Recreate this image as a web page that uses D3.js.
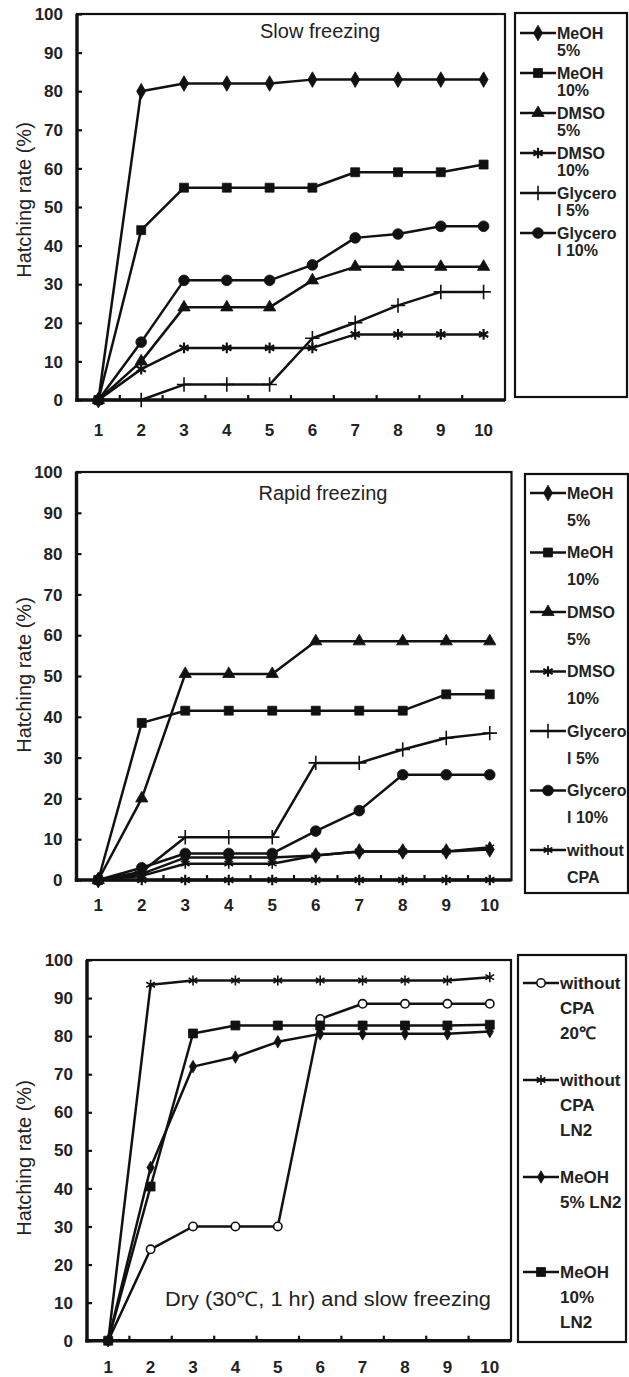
<!DOCTYPE html>
<html>
<head>
<title>Hatching rate</title>
<script src="https://d3js.org/d3.v7.min.js"></script>
<style type="text/css">
	body{ margin:0; background:white; }
	.tick-label{ font-family:"Liberation Sans",Arial,sans-serif; font-weight:bold; font-size:17px; fill:#222; }
	.axis-title{ font-family:"Liberation Sans",Arial,sans-serif; font-size:20px; fill:#222; }
	.panel-title{ font-family:"Liberation Sans",Arial,sans-serif; font-size:20px; fill:#222; }
	.legend-label{ font-family:"Liberation Sans",Arial,sans-serif; font-weight:bold; fill:#222; }
	.series{ fill:none; stroke:#111; stroke-width:2.5px; stroke-linejoin:round; }
	.frame{ fill:none; stroke:#111; stroke-width:2.2px; }
	.legend-box{ fill:white; stroke:#111; stroke-width:2.2px; }
</style>
</head>
<body>
<svg id="chart" width="629" height="1377"></svg>
<script>
// x categories and y ticks
var days = ["1","2","3","4","5","6","7","8","9","10"];
var yTicks = [0,10,20,30,40,50,60,70,80,90,100];

// Slow freezing
var slowMeoh5   = [0,80,82,82,82,83,83,83,83,83];
var slowMeoh10  = [0,44,55,55,55,55,59,59,59,61];
var slowDmso5   = [0,10,24,24,24,31,34.5,34.5,34.5,34.5];
var slowDmso10  = [0,8,13.5,13.5,13.5,13.5,17,17,17,17];
var slowGly5    = [0,0,4,4,4,16,20,24.5,28,28];
var slowGly10   = [0,15,31,31,31,35,42,43,45,45];

// Rapid freezing
var rapidMeoh5  = [0,1.5,5.5,5.5,5.5,6,7,7,7,7.5];
var rapidMeoh10 = [0,38.5,41.5,41.5,41.5,41.5,41.5,41.5,45.5,45.5];
var rapidDmso5  = [0,20,50.5,50.5,50.5,58.5,58.5,58.5,58.5,58.5];
var rapidDmso10 = [0,0,0,0,0,0,0,0,0,0];
var rapidGly5   = [0,2,10.5,10.5,10.5,28.7,28.7,32,34.8,36];
var rapidGly10  = [0,3,6.5,6.5,6.5,12,17,25.8,25.8,25.8];
var rapidNoCpa  = [0,1,4,4,4,6,7,7,7,8];

// Dry (30C, 1 hr) and slow freezing
var dryNoCpa20  = [0,24,30,30,30,84.5,88.5,88.5,88.5,88.5];
var dryNoCpaLN2 = [0,93.5,94.6,94.6,94.6,94.6,94.6,94.6,94.6,95.5];
var dryMeoh5    = [0,45.5,72,74.5,78.5,80.6,80.6,80.6,80.6,81.2];
var dryMeoh10   = [0,40.5,80.7,82.8,82.8,82.8,82.8,82.8,82.8,83];

var svg = d3.select("#chart");

var mk = {
	diamond:  {type:d3.symbolDiamond, size:70, fill:true},
	square:   {type:d3.symbolSquare, size:80, fill:true},
	triangle: {type:d3.symbolTriangle, size:65, fill:true},
	asterisk: {type:d3.symbolAsterisk, size:80, fill:false, sw:2.2},
	thinStar: {type:d3.symbolAsterisk, size:70, fill:false, sw:1.6},
	plus:     {type:d3.symbolPlus, size:70, fill:false, sw:1.6},
	circle:   {type:d3.symbolCircle, size:90, fill:true},
	ring:     {type:d3.symbolCircle, size:55, fill:false, sw:1.6},
	smallDia: {type:d3.symbolDiamond, size:45, fill:true}
};

var panels = [
	{ left:77, right:505, top:14, bottom:400, xLabelY:436, yTitleY:200,
	  title:"Slow freezing", titleX:320, titleY:38, titleAnchor:"middle", titleLen:null,
	  legend:{x:515, y:13, w:112, h:384, y0:33, step:40, lineGap:17, font:16},
	  series:[
		{name:["MeOH","5%"], values:slowMeoh5, m:mk.diamond},
		{name:["MeOH","10%"], values:slowMeoh10, m:mk.square},
		{name:["DMSO","5%"], values:slowDmso5, m:mk.triangle},
		{name:["DMSO","10%"], values:slowDmso10, m:mk.asterisk},
		{name:["Glycero","l 5%"], values:slowGly5, m:mk.plus},
		{name:["Glycero","l 10%"], values:slowGly10, m:mk.circle}
	  ]},
	{ left:76.5, right:511.5, top:472, bottom:880, xLabelY:911, yTitleY:675,
	  title:"Rapid freezing", titleX:323, titleY:500, titleAnchor:"middle", titleLen:null,
	  legend:{x:525, y:474, w:103, h:419, y0:493, step:59.5, lineGap:27, font:16},
	  series:[
		{name:["MeOH","5%"], values:rapidMeoh5, m:mk.diamond},
		{name:["MeOH","10%"], values:rapidMeoh10, m:mk.square},
		{name:["DMSO","5%"], values:rapidDmso5, m:mk.triangle},
		{name:["DMSO","10%"], values:rapidDmso10, m:mk.asterisk},
		{name:["Glycero","l 5%"], values:rapidGly5, m:mk.plus},
		{name:["Glycero","l 10%"], values:rapidGly10, m:mk.circle},
		{name:["without","CPA"], values:rapidNoCpa, m:mk.thinStar}
	  ]},
	{ left:87, right:511, top:960, bottom:1340.7, xLabelY:1373, yTitleY:1158,
	  title:"Dry (30\u2103, 1 hr) and slow freezing", titleX:165, titleY:1306, titleAnchor:"start", titleLen:326,
	  legend:{x:518, y:955, w:108, h:387, ys:[983,1080,1177,1272], lineGap:25, font:17},
	  series:[
		{name:["without","CPA","20\u2103"], values:dryNoCpa20, m:mk.ring},
		{name:["without","CPA","LN2"], values:dryNoCpaLN2, m:mk.thinStar},
		{name:["MeOH","5% LN2"], values:dryMeoh5, m:mk.smallDia},
		{name:["MeOH","10%","LN2"], values:dryMeoh10, m:mk.square}
	  ]}
];

function drawMarker(g, m, x, y){
	g.append("path")
		.attr("d", d3.symbol().type(m.type).size(m.size)())
		.attr("transform","translate("+x+","+y+")")
		.attr("fill", m.fill ? "#111" : "white")
		.attr("stroke","#111")
		.attr("stroke-width", m.fill ? 0.8 : m.sw);
}

panels.forEach(function(p){
	var g = svg.append("g");
	var x = d3.scaleBand().domain(days).range([p.left, p.right]);
	var y = d3.scaleLinear().domain([0,100]).range([p.bottom, p.top]);
	var cx = function(i){ return x(days[i]) + x.bandwidth()/2; };

	g.append("rect").attr("class","frame")
		.attr("x",p.left).attr("y",p.top)
		.attr("width",p.right-p.left).attr("height",p.bottom-p.top);

	// y axis, ticks pointing in
	var yAxis = d3.axisRight(y).tickValues(yTicks).tickSize(5).tickFormat("");
	g.append("g").attr("transform","translate("+p.left+",0)").call(yAxis)
		.call(function(a){ a.select(".domain").remove(); a.selectAll("line").attr("stroke","#111").attr("stroke-width",2.2); });
	g.selectAll(".ylab").data(yTicks).enter().append("text")
		.attr("class","tick-label")
		.attr("x", p.left-14).attr("y", function(d){ return y(d); })
		.attr("dy","0.36em").attr("text-anchor","end")
		.text(function(d){ return d; });

	// x axis: ticks at band boundaries, pointing up
	var bounds = days.slice(1).map(function(d){ return x(d); });
	g.selectAll(".xt").data(bounds).enter().append("line")
		.attr("x1",function(d){return d;}).attr("x2",function(d){return d;})
		.attr("y1",p.bottom).attr("y2",p.bottom-5)
		.attr("stroke","#111").attr("stroke-width",2.2);
	g.selectAll(".xlab").data(days).enter().append("text")
		.attr("class","tick-label")
		.attr("x", function(d){ return x(d)+x.bandwidth()/2; })
		.attr("y", p.xLabelY).attr("text-anchor","middle")
		.text(function(d){ return d; });

	// heavy left and bottom axis lines
	g.append("line").attr("x1",p.left).attr("x2",p.left).attr("y1",p.top).attr("y2",p.bottom+1.7)
		.attr("stroke","#111").attr("stroke-width",3.4);
	g.append("line").attr("x1",p.left-1.7).attr("x2",p.right).attr("y1",p.bottom).attr("y2",p.bottom)
		.attr("stroke","#111").attr("stroke-width",3.4);

	g.append("text").attr("class","axis-title")
		.attr("transform","translate(31,"+p.yTitleY+") rotate(-90)")
		.attr("text-anchor","middle")
		.text("Hatching rate (%)");

	var t = g.append("text").attr("class","panel-title")
		.attr("x",p.titleX).attr("y",p.titleY).attr("text-anchor",p.titleAnchor)
		.text(p.title);
	if(p.titleLen){ t.attr("textLength",p.titleLen).attr("lengthAdjust","spacingAndGlyphs"); }

	// series
	var line = d3.line().x(function(d,i){ return cx(i); }).y(function(d){ return y(d); });
	p.series.forEach(function(s){
		g.append("path").attr("class","series").attr("d", line(s.values));
		s.values.forEach(function(v,i){ drawMarker(g, s.m, cx(i), y(v)); });
	});

	// legend
	var L = p.legend;
	g.append("rect").attr("class","legend-box")
		.attr("x",L.x).attr("y",L.y).attr("width",L.w).attr("height",L.h);
	p.series.forEach(function(s,i){
		var ly = L.ys ? L.ys[i] : L.y0 + i*L.step;
		g.append("line").attr("x1",L.x+5).attr("x2",L.x+41).attr("y1",ly).attr("y2",ly)
			.attr("stroke","#111").attr("stroke-width",2.6);
		drawMarker(g, s.m, L.x+23, ly);
		s.name.forEach(function(t,j){
			g.append("text").attr("class","legend-label")
				.style("font-size", L.font+"px")
				.attr("x",L.x+42).attr("y",ly+j*L.lineGap).attr("dy","0.36em")
				.text(t);
		});
	});
});
</script>
</body>
</html>
